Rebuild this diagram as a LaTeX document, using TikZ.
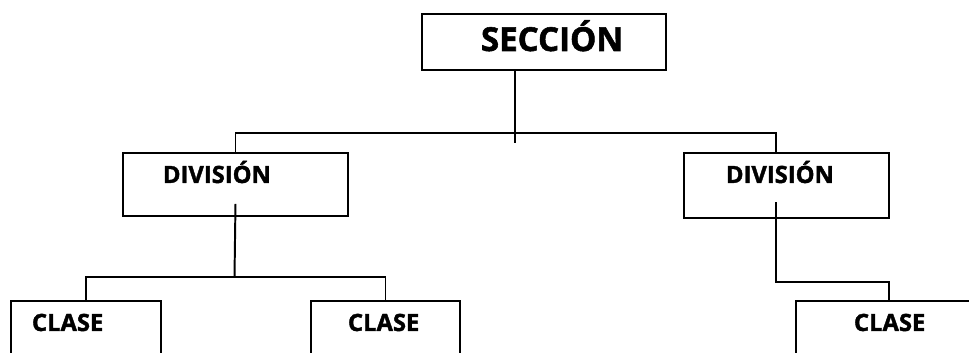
\documentclass[tikz,border=0pt]{standalone}
\usepackage{fontspec}
\setmainfont{Open Sans}[BoldFeatures={FakeBold=1.6}]
\usepackage{tikz}
\usetikzlibrary{positioning,calc}

\begin{document}
\begin{tikzpicture}[
  line width=1.4pt,
  box/.style={rectangle, draw, anchor=north west, align=left, inner ysep=0pt, font=\bfseries\fontsize{16.9}{19}\selectfont},
  secbox/.style={box, text width=3.15cm, inner xsep=1.475cm, text height=0.925cm, text depth=0.475cm, font=\bfseries\fontsize{23.5}{26}\selectfont},
  divbox/.style={box, text height=0.75cm},
  clbox/.style={box, text height=0.75cm, text depth=1.25cm}
]
\useasboundingbox (0,0) rectangle (24.225,-8.8);
\clip (0,0) rectangle (24.225,-8.8);

\node[secbox] (sec) at (10.525,-0.325) {SECCIÓN};

\node[divbox, text width=3.625cm, inner xsep=1.0cm, text depth=0.825cm] (div1) at (3.05,-3.8) {DIVISIÓN};
\node[divbox, text width=3.025cm, inner xsep=1.05cm, text depth=0.875cm] (div2) at (17.075,-3.8) {DIVISIÓN};

\node[clbox, text width=2.7cm, inner xsep=0.525cm] (cl1) at (0.25,-7.5) {CLASE};
\node[clbox, text width=1.875cm, inner xsep=0.925cm] (cl2) at (7.75,-7.5) {CLASE};
\node[clbox, text width=1.75cm, inner xsep=1.45cm] (cl3) at (19.875,-7.5) {CLASE};

\coordinate (secbar) at (12.875,-3.325);
\coordinate (secdrop) at (12.875,-3.575);
\coordinate (div1bar) at (5.8625,-6.925);
\coordinate (div2in) at (19.4,-5.05);
\coordinate (div2bar) at (19.4,-7.05);

\draw (sec.south -| secdrop) -- (secdrop);
\draw (div1.north) |- (secbar) -| (div2.north -| div2in);
\draw ($(div1.south)+(0,0.325)$) -- (div1bar);
\draw (cl1.north) |- (div1bar) -| (cl2.north);
\draw (div2in) -- (div2bar) -| (cl3.north);
\end{tikzpicture}
\end{document}
